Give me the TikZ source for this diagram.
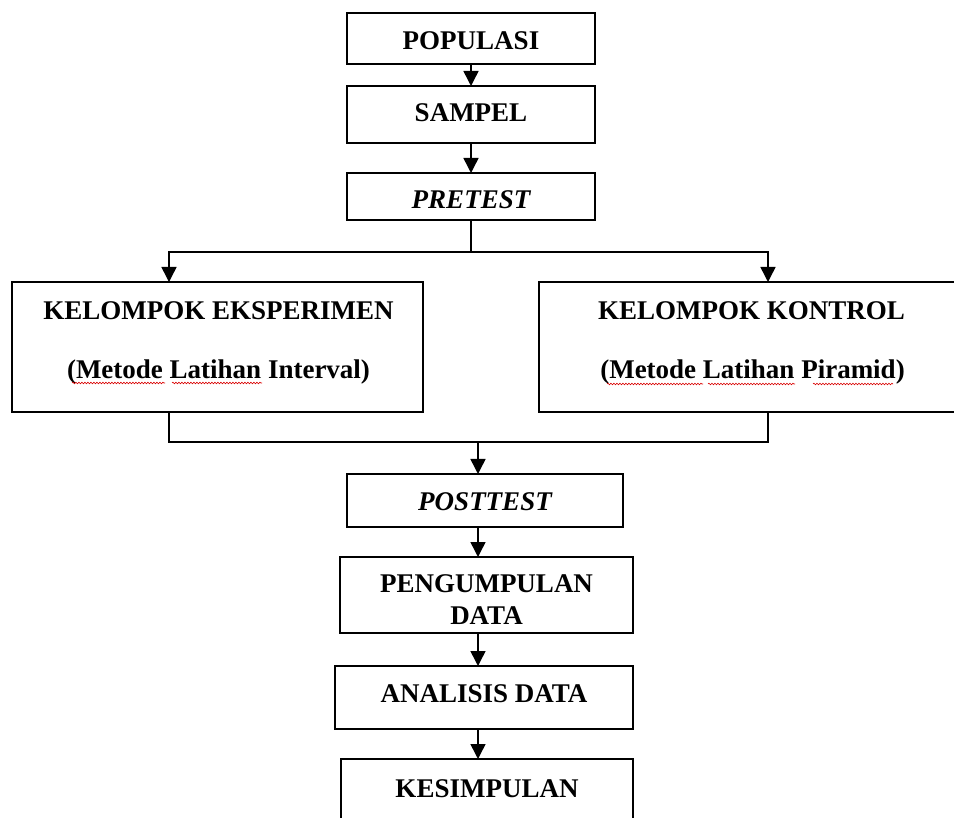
\documentclass[tikz,border=0pt]{standalone}
\usepackage{fontspec}
\setmainfont{Liberation Serif}
\usetikzlibrary{arrows.meta,decorations.pathmorphing}
\begin{document}
\begin{tikzpicture}[x=1pt,y=-1pt,
  box/.style={draw,line width=1.5pt,inner sep=0pt,outer sep=0pt},
  lbl/.style={inner sep=0pt,font=\fontsize{27}{32}\selectfont\bfseries,anchor=base},
  conn/.style={line width=1.5pt},
  arr/.style={conn,-{Triangle[width=15pt,length=15pt]}},
  squig/.style={red!85!black,line width=0.6pt,decorate,
    decoration={snake,amplitude=0.8pt,segment length=3pt}}]
\useasboundingbox (0,0) rectangle (954,818);
\clip (0,0) rectangle (954,818);
% boxes
\node[box,minimum width=248pt,minimum height=51pt] (pop) at (471,38.5) {};
\node[box,minimum width=248pt,minimum height=57pt] (sam) at (471,114.5) {};
\node[box,minimum width=248pt,minimum height=47pt] (pre) at (471,196.5) {};
\node[box,minimum width=411pt,minimum height=130pt] (eks) at (217.5,347) {};
\node[box,minimum width=426pt,minimum height=130pt] (kon) at (752,347) {};
\node[box,minimum width=276pt,minimum height=53pt] (post) at (485,500.5) {};
\node[box,minimum width=293pt,minimum height=76pt] (peng) at (486.5,595) {};
\node[box,minimum width=298pt,minimum height=63pt] (ana) at (484,697.5) {};
\node[box,minimum width=292pt,minimum height=72pt] (kes) at (487,795) {};
% texts
\node[lbl] (popt) at (471,49.5) {POPULASI};
\node[lbl] (samt) at (471,122) {SAMPEL};
\node[lbl] (pret) at (471,209) {\itshape PRETEST};
\node[lbl] (eks1) at (218.5,320) {KELOMPOK EKSPERIMEN};
\node[lbl] (eks2) at (218.5,379) {(Metode Latihan Interval)};
\node[lbl] (kon1) at (751.5,320) {KELOMPOK KONTROL};
\node[lbl] (kon2) at (752.5,379) {(Metode Latihan Piramid)};
\node[lbl] (postt) at (485,510.5) {\itshape POSTTEST};
\node[lbl] (peng1) at (486.5,592) {PENGUMPULAN};
\node[lbl] (peng2) at (486.5,624) {DATA};
\node[lbl] (anat) at (484,702.5) {ANALISIS DATA};
\node[lbl] (kest) at (487,797.5) {KESIMPULAN};
% spell-check underlines
\draw[squig] (72,383) -- (165,383);
\draw[squig] (172,383) -- (262,383);
\draw[squig] (607,384) -- (703,384);
\draw[squig] (708,384) -- (795,384);
\draw[squig] (813,384) -- (893,384);
% connectors
\coordinate (tl) at (169,252);
\coordinate (tr) at (768,252);
\coordinate (bl) at (169,442);
\coordinate (br) at (768,442);
\coordinate (bm) at (478,442);
\draw[arr] (pop) -- (sam);
\draw[arr] (sam) -- (pre);
\draw[conn] (pre.south) -- (pre.south |- tl);
\draw[arr] (pre.south |- tl) -- (tl) -- (eks.north -| tl);
\draw[arr] (pre.south |- tr) -- (tr) -- (kon.north -| tr);
\draw[conn] (eks.south -| bl) -- (bl) -- (br) -- (kon.south -| br);
\draw[arr] (bm) -- (post.north -| bm);
\draw[arr] (post.south -| bm) -- (peng.north -| bm);
\draw[arr] (peng.south -| bm) -- (ana.north -| bm);
\draw[arr] (ana.south -| bm) -- (kes.north -| bm);
\end{tikzpicture}
\end{document}
